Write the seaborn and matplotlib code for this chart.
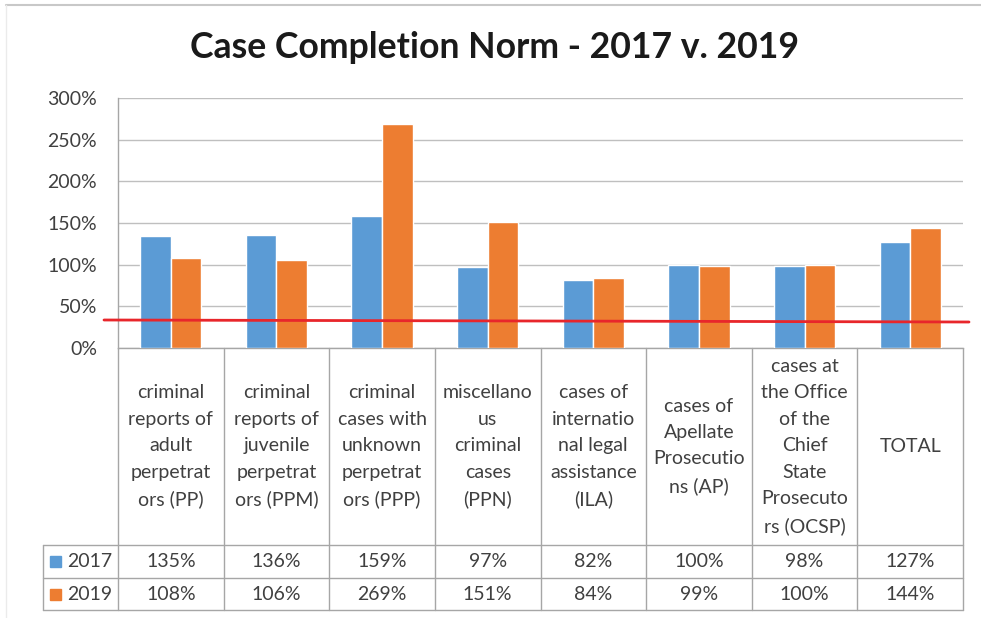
import matplotlib
matplotlib.use("Agg")
import matplotlib.pyplot as plt
import seaborn as sns
import pandas as pd
import numpy as np
from matplotlib.ticker import PercentFormatter
from matplotlib.patches import Rectangle

# ---------------------------
# Data
# ---------------------------
categories = [
    "criminal\nreports of\nadult\nperpetrat\nors (PP)",
    "criminal\nreports of\njuvenile\nperpetrat\nors (PPM)",
    "criminal\ncases with\nunknown\nperpetrat\nors (PPP)",
    "miscellano\nus\ncriminal\ncases\n(PPN)",
    "cases of\ninternatio\nnal legal\nassistance\n(ILA)",
    "cases of\nApellate\nProsecutio\nns (AP)",
    "cases at\nthe Office\nof the\nChief\nState\nProsecuto\nrs (OCSP)",
    "TOTAL",
]
years = ["2017", "2019"]
values_2017 = [1.35, 1.36, 1.59, 0.97, 0.82, 1.00, 0.98, 1.27]
values_2019 = [1.08, 1.06, 2.69, 1.51, 0.84, 0.99, 1.00, 1.44]
year_colors = ["#5B9BD5", "#ED7D31"]
# hand drawn red "norm" line, height at its left and right ends
norm_line = [0.336, 0.312]

# ---------------------------
# Figure setup (positions in pixels of a 981x618 canvas)
# ---------------------------
sns.set_theme(style="white")
plt.rcParams["font.family"] = ["Lato", "DejaVu Sans"]

W, H = 981, 618
fig = plt.figure(figsize=(W / 100, H / 100), dpi=100)
fig.patch.set_facecolor("white")


def box(l, t, r, b):
    return [l / W, 1 - b / H, (r - l) / W, (b - t) / H]


PLOT_L, PLOT_R, PLOT_T, PLOT_B = 118, 963, 98, 348
TAB_L, ROW1, ROW2, TAB_B = 43, 545, 578, 610
GRID = "#BFBFBF"
BORDER = "#A6A6A6"
TEXT = "#404040"

ax = fig.add_axes(box(PLOT_L, PLOT_T, PLOT_R, PLOT_B))
df = pd.DataFrame({
    "category": categories * 2,
    "year": [years[0]] * len(categories) + [years[1]] * len(categories),
    "value": values_2017 + values_2019,
})
sns.barplot(data=df, x="category", y="value", hue="year", palette=year_colors,
            width=0.58, saturation=1, ax=ax, legend=False, zorder=3)

ax.set_xlim(-0.5, len(categories) - 0.5)
ax.set_ylim(0, 3)
ax.set_yticks(np.arange(0, 3.01, 0.5))
ax.yaxis.set_major_formatter(PercentFormatter(1.0, decimals=0))
ax.yaxis.grid(True, color=GRID, linewidth=1, zorder=0)
ax.set_xticks([])
ax.set_xlabel("")
ax.set_ylabel("")
ax.tick_params(axis="y", length=0, pad=15, labelsize=14, labelcolor=TEXT)
for side in ["top", "right"]:
    ax.spines[side].set_visible(False)
for side in ["left", "bottom"]:
    ax.spines[side].set_color(BORDER)
    ax.spines[side].set_linewidth(1)

# red norm line, runs a little past both ends of the plot area
col_w = (PLOT_R - PLOT_L) / len(categories)
x_left = -0.5 + (104 - PLOT_L) / col_w
x_right = -0.5 + (969 - PLOT_L) / col_w
ax.plot([x_left, x_right], norm_line, color="#E8262B", linewidth=2,
        clip_on=False, zorder=5)

# ---------------------------
# Data table below the plot (pixel coordinates)
# ---------------------------
tab = fig.add_axes([0, 0, 1, 1])
tab.set_xlim(0, W)
tab.set_ylim(H, 0)
tab.axis("off")
tab.patch.set_alpha(0)

edges = PLOT_L + col_w * np.arange(len(categories) + 1)
centers = (edges[:-1] + edges[1:]) / 2
for x in edges:
    tab.plot([x, x], [PLOT_B, TAB_B], color=BORDER, linewidth=1)
tab.plot([TAB_L, TAB_L], [ROW1, TAB_B], color=BORDER, linewidth=1)
for y in [ROW1, ROW2, TAB_B]:
    tab.plot([TAB_L, PLOT_R], [y, y], color=BORDER, linewidth=1)

for cx, label in zip(centers, categories):
    tab.text(cx, (PLOT_B + ROW1) / 2, label, ha="center", va="center",
             fontsize=14, color=TEXT, linespacing=1.67)

rows = [(ROW1, ROW2, values_2017), (ROW2, TAB_B, values_2019)]
for (top, bot, vals), year, color in zip(rows, years, year_colors):
    cy = (top + bot) / 2
    tab.add_patch(Rectangle((50, cy - 5.5), 11, 11, color=color))
    tab.text(67, cy, year, ha="left", va="center", fontsize=14, color=TEXT)
    for cx, v in zip(centers, vals):
        tab.text(cx, cy, f"{v:.0%}", ha="center", va="center",
                 fontsize=14, color=TEXT)

# chart area frame (top and left edge visible in the original crop)
tab.plot([6, W], [5, 5], color="#C8C8C8", linewidth=1.5)
tab.plot([6, 6], [5, H], color="#EBEBEB", linewidth=1)

fig.text(495 / W, 1 - 47 / H, "Case Completion Norm - 2017 v. 2019",
         ha="center", va="center", fontsize=25.7, fontweight="bold",
         color="#1A1A1A")

fig.savefig("out.png", dpi=100)
